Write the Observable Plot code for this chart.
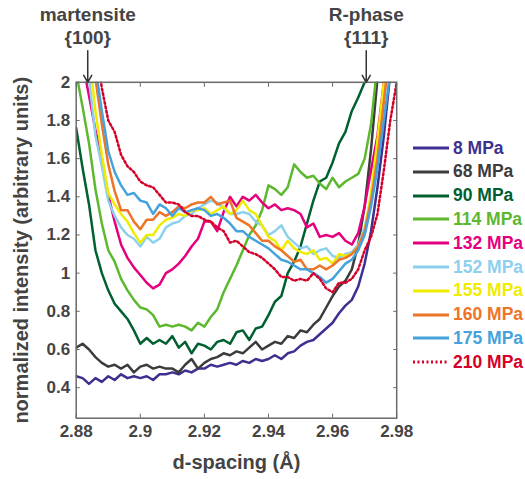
<!DOCTYPE html>
<html><head><meta charset="utf-8">
<script src="https://cdn.jsdelivr.net/npm/d3@7"></script>
<script src="https://cdn.jsdelivr.net/npm/@observablehq/plot@0.6"></script>
<style>
body{margin:0;background:#fff;}
#wrap{position:relative;width:525px;height:479px;font-family:"Liberation Sans",Arial,sans-serif;}
.row{position:absolute;left:413px;height:24px;display:flex;align-items:center;white-space:nowrap;font-weight:bold;font-size:17.5px;}
.row svg{margin-right:4px;}
</style></head><body><div id="wrap"></div><script>
// d-spacing grid (Å)
const dSpacing = [2.880,2.882,2.884,2.886,2.888,2.890,2.892,2.894,2.896,2.898,
 2.900,2.902,2.904,2.906,2.908,2.910,2.912,2.914,2.916,2.918,
 2.920,2.922,2.924,2.926,2.928,2.930,2.932,2.934,2.936,2.938,
 2.940,2.942,2.944,2.946,2.948,2.950,2.952,2.954,2.956,2.958,
 2.960,2.962,2.964,2.966,2.968,2.970,2.972,2.974,2.976,2.978,2.980];

const mpa8 = [0.46,0.45,0.42,0.45,0.43,0.46,0.44,0.47,0.45,0.46,
 0.45,0.46,0.44,0.47,0.47,0.48,0.47,0.49,0.48,0.50,
 0.50,0.52,0.51,0.52,0.53,0.52,0.54,0.53,0.55,0.54,
 0.55,0.57,0.55,0.58,0.59,0.62,0.64,0.65,0.68,0.71,
 0.74,0.79,0.83,0.86,0.93,1.05,1.22,1.45,1.72,2.05,null];
const mpa68 = [0.61,0.63,0.60,0.56,0.53,0.51,0.52,0.50,0.52,0.48,
 0.51,0.52,0.50,0.51,0.50,0.50,0.48,0.52,0.55,0.50,
 0.53,0.55,0.56,0.58,0.57,0.59,0.58,0.61,0.64,0.60,
 0.62,0.64,0.63,0.67,0.66,0.70,0.69,0.73,0.76,0.82,
 0.88,0.93,0.96,1.02,1.15,1.35,1.65,2.02,null,null,null];
const mpa90 = [1.76,1.55,1.36,1.12,1.00,0.91,0.84,0.80,0.76,0.70,
 0.63,0.66,0.63,0.65,0.63,0.67,0.61,0.64,0.58,0.63,
 0.62,0.60,0.64,0.65,0.63,0.69,0.70,0.65,0.71,0.72,
 0.78,0.85,0.88,1.00,1.06,1.14,1.26,1.38,1.48,1.50,
 1.58,1.68,1.74,1.85,1.92,2.00,null,null,null,null,null];
const mpa114 = [2.05,1.87,1.68,1.44,1.26,1.12,1.06,0.97,0.91,0.86,
 0.82,0.81,0.78,0.72,0.73,0.72,0.73,0.72,0.70,0.74,
 0.72,0.77,0.81,0.90,0.97,1.04,1.12,1.20,1.25,1.33,
 1.46,1.44,1.41,1.45,1.57,1.53,1.50,1.51,1.47,1.44,
 1.50,1.45,1.48,1.50,1.52,1.60,1.78,2.10,null,null,null];
const mpa132 = [null,2.10,1.93,1.75,1.60,1.41,1.27,1.15,1.08,1.03,
 0.99,0.95,0.92,0.94,1.00,1.02,1.05,1.09,1.14,1.18,
 1.27,1.27,1.22,1.32,1.40,1.35,1.40,1.38,1.41,1.37,
 1.34,1.36,1.33,1.34,1.33,1.31,1.24,1.26,1.19,1.20,
 1.19,1.21,1.17,1.15,1.21,1.35,1.54,1.72,2.00,2.30,null];
const mpa152 = [null,2.30,2.02,1.72,1.56,1.38,1.30,1.24,1.20,1.18,
 1.14,1.19,1.16,1.18,1.24,1.26,1.27,1.30,1.31,1.34,
 1.36,1.38,1.37,1.34,1.31,1.31,1.32,1.31,1.27,1.25,
 1.20,1.22,1.25,1.19,1.16,1.13,1.14,1.10,1.12,1.13,
 1.09,1.08,1.10,1.11,1.15,1.24,1.40,1.62,1.90,2.20,null];
const mpa155 = [null,null,2.15,1.85,1.62,1.42,1.36,1.31,1.27,1.21,
 1.16,1.20,1.20,1.25,1.28,1.29,1.31,1.30,1.33,1.33,
 1.34,1.31,1.33,1.35,1.31,1.33,1.38,1.33,1.31,1.25,
 1.19,1.17,1.12,1.17,1.13,1.11,1.10,1.12,1.07,1.08,
 1.05,1.10,1.09,1.10,1.14,1.22,1.42,1.70,2.00,2.30,null];
const mpa160 = [null,null,null,2.02,1.78,1.57,1.43,1.33,1.33,1.27,
 1.23,1.28,1.28,1.32,1.30,1.32,1.35,1.34,1.36,1.37,
 1.37,1.40,1.36,1.37,1.38,1.29,1.27,1.25,1.21,1.17,
 1.17,1.14,1.12,1.09,1.06,1.07,1.02,1.02,1.04,1.02,
 1.04,1.07,1.08,1.10,1.14,1.22,1.38,1.60,1.90,2.20,null];
const mpa175 = [null,null,null,2.08,1.85,1.64,1.53,1.46,1.41,1.42,
 1.38,1.37,1.31,1.36,1.34,1.30,1.34,1.32,1.33,1.34,
 1.33,1.30,1.31,1.29,1.26,1.22,1.22,1.19,1.17,1.15,
 1.13,1.10,1.07,1.06,1.04,1.02,1.02,1.00,0.98,0.95,
 0.97,1.01,1.05,1.07,1.12,1.20,1.35,1.55,1.80,2.05,null];
const mpa210 = [null,null,null,2.20,1.97,1.80,1.74,1.62,1.56,1.53,
 1.48,1.46,1.45,1.41,1.37,1.37,1.36,1.32,1.30,1.30,
 1.28,1.27,1.24,1.22,1.16,1.17,1.14,1.11,1.10,1.08,
 1.05,1.02,0.98,0.98,0.96,0.97,0.96,1.00,0.97,0.92,
 0.90,0.95,0.95,0.97,1.02,1.12,1.19,1.31,1.54,1.80,2.00];

const seriesNames = ["8 MPa","68 MPa","90 MPa","114 MPa","132 MPa","152 MPa","155 MPa","160 MPa","175 MPa","210 MPa"];
const seriesValues = [mpa8,mpa68,mpa90,mpa114,mpa132,mpa152,mpa155,mpa160,mpa175,mpa210];
const seriesColors = ["#3d3090","#3c3c3c","#006030","#5cb82e","#e5007e","#8dd0ee","#f0ec00","#ee7427","#45a2dc","#d6002a"];
const seriesDash = [null,null,null,null,null,null,null,null,null,"2,2.5"];

const xTicks = [2.88,2.90,2.92,2.94,2.96,2.98];
const xTickLabels = ["2.88","2.9","2.92","2.94","2.96","2.98"];
const yTicks = [0.4,0.6,0.8,1.0,1.2,1.4,1.6,1.8,2.0];
const yTickLabels = ["0.4","0.6","0.8","1","1.2","1.4","1.6","1.8","2"];

const peakD = [2.8836, 2.9705];
const peakNames = ["martensite\n{100}", "R-phase\n{111}"];

const xLabel = "d-spacing (Å)";
const yLabel = "normalized intensity (arbitrary units)";

const axisStroke = "#6b6b6b", textFill = "#444";

const lineMarks = seriesValues.map((vals, s) =>
  Plot.line(dSpacing.map((d, i) => ({d, v: vals[i]})), {
    x: "d", y: "v", stroke: seriesColors[s], strokeWidth: 2.5,
    strokeDasharray: seriesDash[s] || undefined, clip: true,
    strokeLinejoin: "round"
  })
);

const chart = Plot.plot({
  width: 525, height: 479,
  marginLeft: 75.7, marginRight: 128.8, marginTop: 81.8, marginBottom: 61.3,
  x: {domain: [2.88, 2.98]},
  y: {domain: [0.24, 2]},
  style: {fontFamily: '"Liberation Sans", Arial, sans-serif', fontWeight: "bold", fontSize: "17px", background: "#fff"},
  marks: [
    ...lineMarks,
    Plot.frame({stroke: axisStroke, strokeWidth: 1.5}),
    Plot.axisX({ticks: xTicks, tickFormat: (d, i) => xTickLabels[i], tickSize: -4, tickPadding: 11, stroke: axisStroke, fill: textFill, label: null, fontSize: 17, fontWeight: "bold"}),
    Plot.axisX({anchor: "top", ticks: xTicks, tickFormat: () => "", tickSize: -4, stroke: axisStroke, label: null}),
    Plot.axisY({ticks: yTicks, tickFormat: (d, i) => yTickLabels[i], tickSize: -4, tickPadding: 10, stroke: axisStroke, fill: textFill, label: null, fontSize: 17, fontWeight: "bold"}),
    Plot.axisY({anchor: "right", ticks: yTicks, tickFormat: () => "", tickSize: -4, stroke: axisStroke, label: null}),
    Plot.text([xLabel], {frameAnchor: "bottom", dy: 44, text: d => d, fontSize: 20, fontWeight: "bold", fill: textFill, lineAnchor: "middle", textAnchor: "middle"}),
    Plot.text([yLabel], {frameAnchor: "left", dx: -55, rotate: -90, text: d => d, fontSize: 20, fontWeight: "bold", fill: textFill, lineAnchor: "middle", textAnchor: "middle"}),
    Plot.arrow(peakD, {x1: d => d, x2: d => d, y1: 2.165, y2: 2.0, stroke: "#333", strokeWidth: 1.5, headLength: 8}),
    Plot.text(peakD, {x: d => d, y: 2.0, text: (d, i) => peakNames[i], dy: -57, lineAnchor: "middle", lineHeight: 1.22, fontSize: 19, fontWeight: "bold", fill: textFill})
  ]
});

const wrap = document.getElementById("wrap");
wrap.appendChild(chart);

seriesNames.forEach((name, i) => {
  const row = document.createElement("div");
  row.className = "row";
  row.style.top = (148 + i * 23.8 - 12) + "px";
  row.style.color = seriesColors[i];
  const dash = seriesDash[i] ? ` stroke-dasharray="${seriesDash[i]}"` : "";
  row.innerHTML = `<svg width="36" height="6"><line x1="0" y1="3" x2="36" y2="3" stroke="${seriesColors[i]}" stroke-width="3"${dash}/></svg><span>${name}</span>`;
  wrap.appendChild(row);
});
</script></body></html>
